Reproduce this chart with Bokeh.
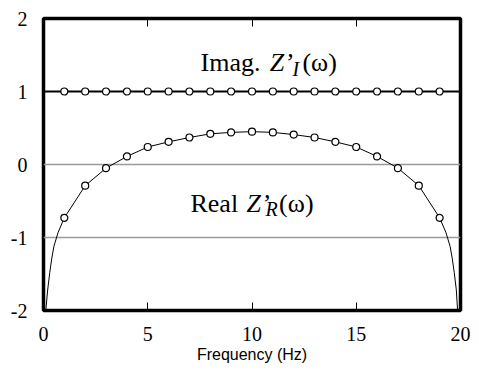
from bokeh.plotting import figure
from bokeh.models import Range1d, LinearAxis, FixedTicker, Label
from bokeh.embed import file_html
from bokeh.resources import INLINE

# ---- data ----
freq_pts = [1, 2, 3, 4, 5, 6, 7, 8, 9, 10, 11, 12, 13, 14, 15, 16, 17, 18, 19]
real_pts = [-0.73, -0.29, -0.05, 0.11, 0.24, 0.31, 0.37, 0.42, 0.44, 0.45,
            0.44, 0.41, 0.37, 0.31, 0.24, 0.11, -0.05, -0.29, -0.73]
imag_pts = [1.0] * 19

freq_curve = [0.11, 0.2, 0.3, 0.4, 0.5, 0.7, 1, 2, 3, 4, 5, 6, 7, 8, 9, 10,
              11, 12, 13, 14, 15, 16, 17, 18, 19, 19.3, 19.5, 19.6, 19.7, 19.8, 19.86]
real_curve = [-2.0, -1.72, -1.48, -1.28, -1.12, -0.93, -0.73, -0.29, -0.05, 0.11,
              0.24, 0.31, 0.37, 0.42, 0.44, 0.45, 0.44, 0.41, 0.37, 0.31, 0.24,
              0.11, -0.05, -0.29, -0.73, -0.93, -1.12, -1.28, -1.48, -1.72, -2.0]
freq_imag_line = [0, 20]
imag_line = [1.0, 1.0]

x_ticks = [0, 5, 10, 15, 20]
y_ticks = [-2, -1, 0, 1, 2]
y_tick_labels = {-2: "-2", -1: "-1", 0: "0", 1: "1", 2: "2"}
x_label = "Frequency (Hz)"

SERIF = "Liberation Serif"

p = figure(width=479, height=374, x_range=Range1d(0, 20), y_range=Range1d(-2, 2),
           output_backend="svg", toolbar_location=None,
           min_border_left=43, min_border_right=19, min_border_top=18, min_border_bottom=64)
p.background_fill_color = "white"
p.border_fill_color = "white"
p.outline_line_color = "black"
p.outline_line_width = 3.5

# axes
xa = p.xaxis[0]
xa.ticker = FixedTicker(ticks=x_ticks)
xa.axis_line_color = None
xa.major_tick_in = 8
xa.major_tick_out = 0
xa.major_tick_line_color = "black"
xa.minor_tick_line_color = None
xa.major_label_text_font = SERIF
xa.major_label_text_font_size = "20px"
xa.major_label_text_color = "black"
xa.major_label_standoff = 16
xa.axis_label = x_label
xa.axis_label_text_font = "Liberation Sans"
xa.axis_label_text_font_style = "normal"
xa.axis_label_text_font_size = "16px"
xa.axis_label_text_color = "black"
xa.axis_label_standoff = 2

ya = p.yaxis[0]
ya.ticker = FixedTicker(ticks=y_ticks)
ya.major_label_overrides = y_tick_labels
ya.axis_line_color = None
ya.major_tick_line_color = None
ya.minor_tick_line_color = None
ya.major_label_text_font = SERIF
ya.major_label_text_font_size = "20px"
ya.major_label_text_color = "black"
ya.major_label_standoff = 10

top = LinearAxis(ticker=FixedTicker(ticks=[5, 10, 15]))
top.axis_line_color = None
top.major_tick_in = 8
top.major_tick_out = 0
top.minor_tick_line_color = None
top.major_label_text_color = None
top.major_label_text_font_size = "1px"
top.major_label_standoff = 0
p.add_layout(top, "above")

p.xgrid.visible = False
p.ygrid.ticker = FixedTicker(ticks=[-1, 0])
p.ygrid.grid_line_color = "#9a9a9a"
p.ygrid.grid_line_width = 1.5

# data
p.line(freq_imag_line, imag_line, line_color="black", line_width=2.2)
p.line(freq_curve, real_curve, line_color="black", line_width=1)
p.scatter(freq_pts, imag_pts, size=7, marker="circle", fill_color="white",
          line_color="black", line_width=1.2)
p.scatter(freq_pts, real_pts, size=7, marker="circle", fill_color="white",
          line_color="black", line_width=1.2)

def lab(x, y, t, size="26px", style="normal"):
    p.add_layout(Label(x=x, y=y, text=t, text_font=SERIF, text_font_size=size,
                       text_font_style=style, text_color="black",
                       text_baseline="alphabetic", text_align="left"))

# Imag. Z'_I(ω)
lab(7.53, 1.40, "Imag.")
lab(10.85, 1.40, "Z’", style="italic")
lab(11.94, 1.31, "I", size="20px", style="italic")
lab(12.42, 1.40, "(ω)")
# Real Z'_R(ω)
lab(7.05, -0.534, "Real")
lab(9.74, -0.534, "Z’", style="italic")
lab(10.65, -0.61, "R", size="20px", style="italic")
lab(11.30, -0.534, "(ω)")

open("out.html", "w").write(file_html(p, INLINE))
